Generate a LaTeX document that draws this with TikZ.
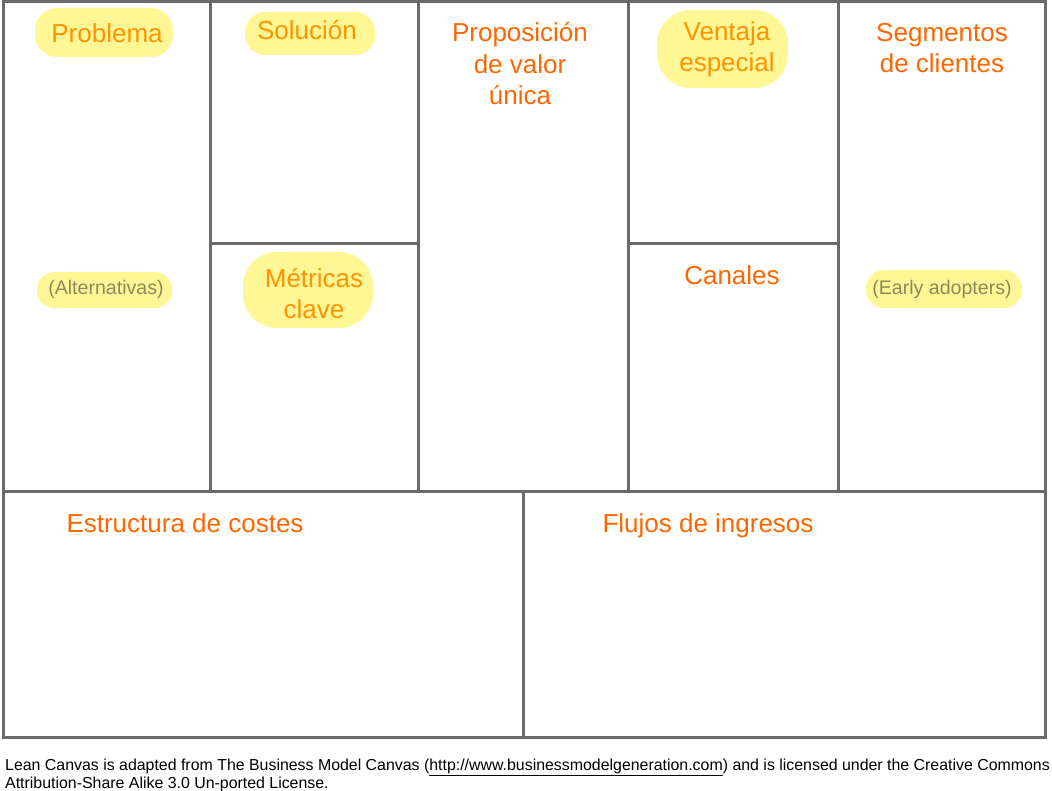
\documentclass[tikz,border=0pt]{standalone}
\usepackage{fontspec}
\setmainfont{Liberation Sans}
\definecolor{rejilla}{RGB}{106,106,106}
\definecolor{naranja}{RGB}{255,102,0}
\definecolor{naranjab}{RGB}{255,148,0}
\definecolor{marcador}{RGB}{255,247,150}
\definecolor{gristexto}{RGB}{138,138,92}
\begin{document}
\begin{tikzpicture}[x=1pt,y=-1pt,
  linea/.style={draw=rejilla,line width=3pt},
  marca/.style={fill=marcador,rounded corners=#1},
  titulo/.style={text=naranja,font=\fontsize{26}{31.5}\selectfont,align=center,inner sep=0pt,anchor=base},
  titulob/.style={titulo,text=naranjab},
  nota/.style={text=gristexto,font=\fontsize{19.6}{24}\selectfont,inner sep=0pt,anchor=base}]
\useasboundingbox (0,0) rectangle (1052,791);

% marcador amarillo
\fill[marca=22pt] (35,8) rectangle (173,57);
\fill[marca=20pt] (245,12) rectangle (375,55);
\fill[marca=17pt] (37,272) rectangle (172,308);
\fill[marca=34pt] (243,252) rectangle (373,328);
\fill[marca=34pt] (657,10) rectangle (788,88);
\fill[marca=18pt] (866,270) rectangle (1022,308);

% rejilla
\draw[linea] (3,2) rectangle (1045,737);
\draw[linea] (3,491) -- (1045,491);
\draw[linea] (210.5,2) -- (210.5,491);
\draw[linea] (418,2) -- (418,491);
\draw[linea] (628,2) -- (628,491);
\draw[linea] (838,2) -- (838,491);
\draw[linea] (210.5,244) -- (418,244);
\draw[linea] (628,244) -- (838,244);
\draw[linea] (523,491) -- (523,737);

\node[titulob](problema) at (107,43){Problema};
\node[nota](alternativas) at (106,295){(Alternativas)};
\node[titulob](solucion) at (307,40){Solución};
\node[titulob](metricas) at (314,319){Métricas\\clave};
\node[titulo](propuesta) at (520,105){Proposición\\de valor\\única};
\node[titulob](ventaja) at (727,72){Ventaja\\especial};
\node[titulo](canales) at (732,285){Canales};
\node[titulo](segmentos) at (942,73){Segmentos\\de clientes};
\node[nota](adopters) at (942,295){(Early adopters)};
\node[titulo](costes) at (185,532){Estructura de costes};
\node[titulo](ingresos) at (708,532){Flujos de ingresos};

\node[anchor=base west,align=left,inner sep=0pt,font=\fontsize{15.9}{17.5}\selectfont](licencia) at (5,788)
  {Lean Canvas is adapted from The Business Model Canvas (\underline{http://www.businessmodelgeneration.com}) and is licensed under the Creative Commons\\
  Attribution-Share Alike 3.0 Un-ported License.};
\end{tikzpicture}
\end{document}
